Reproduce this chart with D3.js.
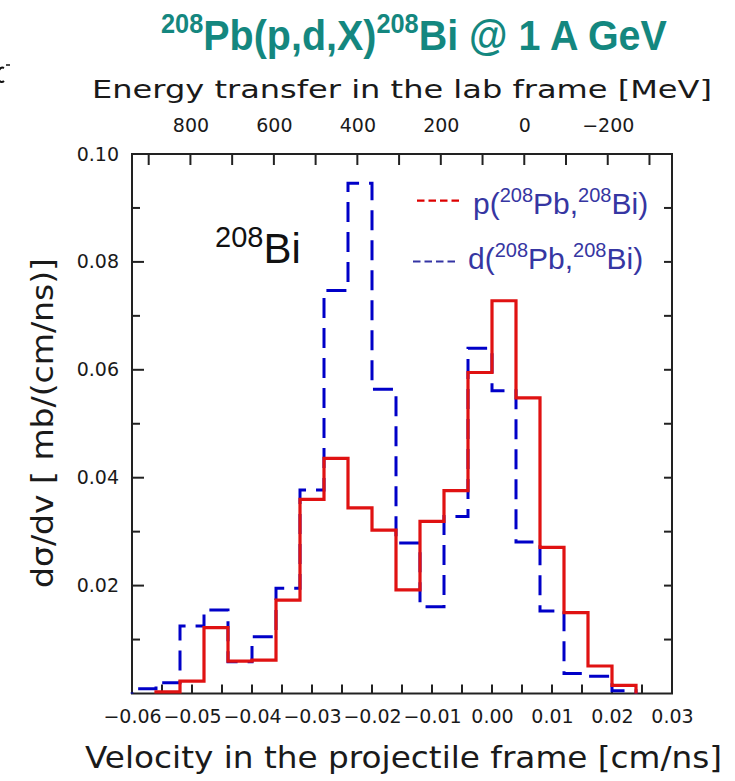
<!DOCTYPE html>
<html>
<head>
<meta charset="utf-8">
<script src="https://cdn.jsdelivr.net/npm/d3@7"></script>
<style>
  html, body { margin: 0; padding: 0; background: #fff; }
  svg { display: block; }
  .stroke-font { font-family: "DejaVu Sans", "Liberation Sans", sans-serif; fill: #1a1a1a; }
  .sans { font-family: "Liberation Sans", Arial, sans-serif; }
</style>
</head>
<body>
<svg id="chart" width="735" height="781"></svg>
<script>
// Histogram bin edges (cm/ns): 0.004 wide bins
const pStart = -0.056;
const dStart = -0.060;
const binWidth = 0.004;

// p(208Pb,208Bi) cross section per bin, mb/(cm/ns)
const pValues = [0.0003, 0.0023, 0.0122, 0.0060, 0.0062, 0.0173, 0.0360, 0.0436, 0.0344, 0.0303,
                 0.0192, 0.0319, 0.0376, 0.0595, 0.0728, 0.0548, 0.0271, 0.0150, 0.0051, 0.0015];
// d(208Pb,208Bi) cross section per bin, mb/(cm/ns)
const dValues = [0.0009, 0.0020, 0.0125, 0.0155, 0.0059, 0.0105, 0.0195, 0.0377, 0.0747, 0.0946,
                 0.0564, 0.0279, 0.0161, 0.0328, 0.0640, 0.0561, 0.0281, 0.0153, 0.0037, 0.0032, 0.0005];

// Axis tick values
const velocityLabels = [-0.06, -0.05, -0.04, -0.03, -0.02, -0.01, 0.00, 0.01, 0.02, 0.03];
const velocityMinor = d3.range(-0.055, 0.03, 0.005);
const energyLabels = [800, 600, 400, 200, 0, -200];
const energyTicks = [900, 800, 700, 600, 500, 400, 300, 200, 100, 0, -100, -200, -300];
const yLabels = [0.02, 0.04, 0.06, 0.08, 0.10];
const yMajor = [0.02, 0.04, 0.06, 0.08];
const yMinor = [0.01, 0.03, 0.05, 0.07, 0.09];
const yRight = [0.01, 0.02, 0.03, 0.04, 0.05, 0.06, 0.07, 0.08, 0.09];

const svg = d3.select("#chart");
const plotLeft = 132, plotRight = 672, plotTop = 154, plotBottom = 693.5;

const x = d3.scaleLinear().domain([-0.06, 0.03]).range([plotLeft, plotRight]);
const y = d3.scaleLinear().domain([0, 0.10]).range([plotBottom, plotTop]);
const xE = d3.scaleLinear().domain([940, -354]).range([plotLeft, plotRight]);

const fmt2 = d3.format(".2f");
const fmtV = v => (Math.abs(v) < 1e-9 ? "0.00" : fmt2(v).replace("-", "\u2212"));
const fmtE = v => String(v).replace("-", "\u2212");

// ---- Tick labels via d3 axes ----
const g = svg.append("g");
g.append("g").attr("class", "lbl").attr("transform", `translate(0,${plotBottom})`)
  .call(d3.axisBottom(x).tickValues(velocityLabels).tickSize(0).tickPadding(16).tickFormat(fmtV));
g.append("g").attr("class", "lbl").attr("transform", `translate(0,${plotTop})`)
  .call(d3.axisTop(xE).tickValues(energyLabels).tickSize(0).tickPadding(22).tickFormat(fmtE));
g.append("g").attr("class", "lbl").attr("transform", `translate(${plotLeft},0)`)
  .call(d3.axisLeft(y).tickValues(yLabels).tickSize(0).tickPadding(13).tickFormat(fmt2));
g.selectAll(".domain").remove();
g.selectAll(".lbl text")
  .attr("class", "stroke-font")
  .style("font-family", "'DejaVu Sans', sans-serif")
  .style("font-size", "19px")
  .attr("fill", "#262626");

// ---- Inward tick marks ----
const ticks = svg.append("g").attr("stroke", "#222").attr("stroke-width", 2);
ticks.selectAll(".tb").data(velocityMinor).join("line")
  .attr("x1", d => x(d)).attr("x2", d => x(d))
  .attr("y1", plotBottom).attr("y2", plotBottom - 9);
ticks.selectAll(".tt").data(energyTicks).join("line")
  .attr("x1", d => xE(d)).attr("x2", d => xE(d))
  .attr("y1", plotTop).attr("y2", plotTop + 11);
ticks.selectAll(".tlM").data(yMajor).join("line")
  .attr("x1", plotLeft).attr("x2", plotLeft + 12)
  .attr("y1", d => y(d)).attr("y2", d => y(d));
ticks.selectAll(".tlm").data(yMinor).join("line")
  .attr("x1", plotLeft).attr("x2", plotLeft + 8)
  .attr("y1", d => y(d)).attr("y2", d => y(d));
ticks.selectAll(".tr").data(yRight).join("line")
  .attr("x1", plotRight).attr("x2", plotRight - 8)
  .attr("y1", d => y(d)).attr("y2", d => y(d));

// frame
svg.append("rect")
  .attr("x", plotLeft).attr("y", plotTop)
  .attr("width", plotRight - plotLeft).attr("height", plotBottom - plotTop)
  .attr("fill", "none").attr("stroke", "#222").attr("stroke-width", 2);

// ---- Histograms ----
function stepPoints(start, values) {
  const pts = [[start, 0]];
  values.forEach((v, i) => pts.push([start + i * binWidth, v]));
  const end = start + values.length * binWidth;
  pts.push([end, values[values.length - 1]]);
  pts.push([end, 0]);
  return pts;
}
const step = d3.line().x(d => x(d[0])).y(d => y(d[1])).curve(d3.curveStepAfter);

svg.append("path")
  .attr("d", step(stepPoints(dStart, dValues)))
  .attr("fill", "none").attr("stroke", "#0000c8").attr("stroke-width", 3)
  .attr("stroke-dasharray", "20,10").attr("stroke-dashoffset", -11);

svg.append("path")
  .attr("d", step(stepPoints(pStart, pValues)))
  .attr("fill", "none").attr("stroke", "#e01212").attr("stroke-width", 3.2)
  .attr("stroke-linejoin", "miter");

// ---- Axis titles ----
svg.append("text").attr("class", "stroke-font")
  .attr("x", 92).attr("y", 98)
  .attr("textLength", 620).attr("lengthAdjust", "spacingAndGlyphs")
  .style("font-size", "25px")
  .text("Energy transfer in the lab frame [MeV]");

svg.append("text").attr("class", "stroke-font")
  .attr("x", 85).attr("y", 768)
  .attr("textLength", 637).attr("lengthAdjust", "spacingAndGlyphs")
  .style("font-size", "31px")
  .text("Velocity in the projectile frame [cm/ns]");

svg.append("text").attr("class", "stroke-font")
  .attr("transform", "translate(53,588) rotate(-90)")
  .attr("x", 0).attr("y", 0)
  .attr("textLength", 330).attr("lengthAdjust", "spacingAndGlyphs")
  .style("font-size", "30px")
  .text("d\u03c3/dv [ mb/(cm/ns)]");

// ---- Title (tall, slightly condensed) ----
const titleX = 161, titleWidth = 506;
const title = svg.append("text").attr("class", "sans")
  .attr("x", 0).attr("y", 0)
  .attr("fill", "#14877f").attr("font-weight", "bold")
  .style("font-size", "42px");
title.append("tspan").attr("dy", -17).style("font-size", "27px").text("208");
title.append("tspan").attr("dy", 17).text("Pb(p,d,X)");
title.append("tspan").attr("dy", -17).style("font-size", "27px").text("208");
title.append("tspan").attr("dy", 17).text("Bi @ 1 A GeV");
const tb = title.node().getBBox();
title.attr("transform", `translate(${titleX - tb.x * (titleWidth / tb.width)},50) scale(${titleWidth / tb.width},1)`);

// ---- Nucleus label inside the plot ----
const nuc = svg.append("text").attr("class", "sans")
  .attr("x", 215).attr("y", 263).attr("fill", "#111")
  .style("font-size", "42px");
nuc.append("tspan").attr("dy", -16).style("font-size", "29px").text("208");
nuc.append("tspan").attr("dy", 16).text("Bi");

// ---- Legend ----
const legendItems = [
  { lead: "p(", color: "#dd0000", lineY: 200.7, textX: 473, textY: 213.5, x1: 417, x2: 460 },
  { lead: "d(", color: "#3434a4", lineY: 261.5, textX: 468, textY: 268.5, x1: 413, x2: 455 }
];
legendItems.forEach(it => {
  svg.append("line")
    .attr("x1", it.x1).attr("x2", it.x2).attr("y1", it.lineY).attr("y2", it.lineY)
    .attr("stroke", it.color).attr("stroke-width", 2.2).attr("stroke-dasharray", "7.5,4");
  const t = svg.append("text").attr("class", "sans")
    .attr("x", it.textX).attr("y", it.textY).attr("fill", "#3636a2")
    .style("font-size", "30px");
  t.append("tspan").text(it.lead);
  t.append("tspan").attr("dy", -12).style("font-size", "20px").text("208");
  t.append("tspan").attr("dy", 12).text("Pb,");
  t.append("tspan").attr("dy", -12).style("font-size", "20px").text("208");
  t.append("tspan").attr("dy", 12).text("Bi)");
});

// small mark clipped by the left page edge
svg.append("path")
  .attr("d", "M4,68 C0,66 -3,72 -2,78 C-1,82 2,83 4,81")
  .attr("fill", "none").attr("stroke", "#111").attr("stroke-width", 2);
svg.append("line").attr("x1", 6).attr("x2", 10).attr("y1", 65).attr("y2", 65)
  .attr("stroke", "#111").attr("stroke-width", 1.5);
</script>
</body>
</html>
